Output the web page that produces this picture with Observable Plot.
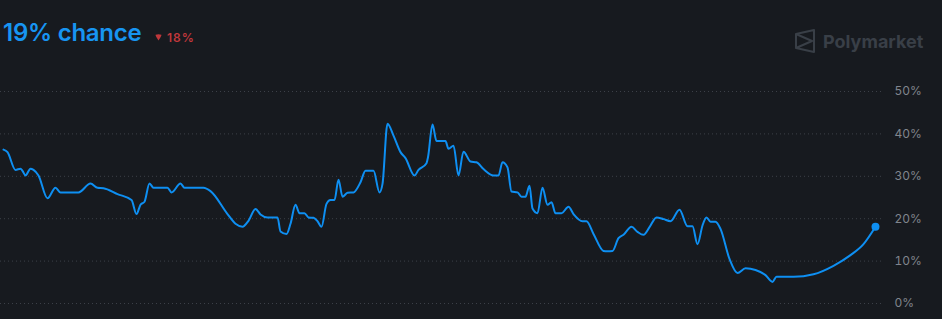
<!DOCTYPE html>
<html>
<head>
<meta charset="utf-8">
<script src="https://cdn.jsdelivr.net/npm/d3@7"></script>
<script src="https://cdn.jsdelivr.net/npm/@observablehq/plot@0.6"></script>
<style>
  html, body { margin: 0; padding: 0; background: #171a1f; }
  #wrap { position: relative; width: 942px; height: 319px; background: #171a1f; overflow: hidden; font-family: Inter, "Open Sans", sans-serif; }
  #head { position: relative; height: 70px; }
  #title { position: absolute; left: 3px; top: 18px; font-size: 24px; font-weight: 600; color: #1795f2; letter-spacing: -0.25px; }
  #delta { position: absolute; left: 155px; top: 30px; display: flex; align-items: center; gap: 5px; font-size: 12px; font-weight: 600; color: #c0373b; letter-spacing: 1px; }
  #brand { position: absolute; left: 795px; top: 29px; display: flex; align-items: center; gap: 8px; color: #393f47; font-size: 18px; font-weight: 700; }
  #chart svg { display: block; }
</style>
</head>
<body>
<div id="wrap">
  <div id="head">
    <div id="title"></div>
    <div id="delta">
      <svg width="7" height="7" viewBox="0 0 7 7"><path d="M0.6 0.8 Q3.5 -0.2 6.4 0.8 Q6.6 1.6 3.5 6.6 Q0.4 1.6 0.6 0.8 Z" fill="#c0373b"/></svg>
      <span id="deltaText"></span>
    </div>
    <div id="brand">
      <svg width="20" height="24" viewBox="0 0 20 24" fill="none" stroke="#393f47" stroke-width="2" stroke-linejoin="round">
        <path d="M1 5 L19 1 L19 23 L1 19 Z M1 5 L17 12 L1 19"/>
      </svg>
      <span id="brandText"></span>
    </div>
  </div>
  <div id="chart"></div>
</div>
<script>
const titleText = "19% chance";
const deltaText = "18%";
const brandName = "Polymarket";

// time position (arbitrary units) and probability (%)
const day = [3,7,15,20,22,25,30,33,38,47,55,60,78,90,97,103,117,131,136,140,144,149,153,167,171,180,184,203,210,227,235,242,248,255,260,267,277,280,286,290,295,299,304,308,313,317,321,326,330,334,338,342,347,353,360,365,373,379,382,387,393,400,405,414,418,426,427.5,432,436,445,448,453,458,463,470,476,483,493,498,502,507,511,517,521,525,529,532,537,542,547,551,555,561,568,573,582,586,593,603,607,612,618,623,631,637,643,649,656,663,670,679,687,692,697,702,706,710,715,720,729,737,745,755,765,772,776,793,813,833,850,863,875];
const pct = [36.3,35.7,31.5,31.8,31.3,30.2,31.8,31.5,30.2,24.8,27.3,26.2,26.2,28.3,27.3,27.2,25.8,24.4,21.1,23.3,24.0,28.3,27.3,27.3,26.2,28.3,27.3,27.3,26.5,21.1,18.8,18.1,19.5,22.3,21.0,20.3,20.3,17.0,16.4,18.8,23.3,21.3,21.3,20.3,20.2,19.4,18.1,23.5,24.4,24.4,29.2,25.2,26.1,26.2,28.6,31.3,31.3,26.2,28.2,42.4,39.6,35.7,34.3,30.2,31.5,33.1,34.5,42.2,38.3,38.3,36.5,37.2,30.2,35.8,33.5,33.3,31.7,30.2,30.2,33.3,32.1,26.4,26.2,25.2,25.2,27.8,22.4,21.3,27.3,23.3,23.9,21.3,21.3,22.8,21.1,19.4,19.4,16.4,12.4,12.3,12.4,15.4,16.2,18.1,16.9,16.2,18.0,20.3,19.9,19.4,22.1,18.2,18.2,14.0,18.4,20.3,19.3,19.3,17.6,10.5,7.2,8.3,7.9,6.7,5.1,6.3,6.3,6.9,8.9,11.4,14.0,18.1];
const yTicks = [0, 10, 20, 30, 40, 50];
const xDomain = [0, 883];

document.getElementById("title").textContent = titleText;
document.getElementById("deltaText").textContent = deltaText;
document.getElementById("brandText").textContent = brandName;

const data = day.map((d, i) => ({t: d, v: pct[i]}));
const last = data[data.length - 1];

const chart = Plot.plot({
  width: 942,
  height: 249,
  marginTop: 21,
  marginBottom: 16,
  marginLeft: 0,
  marginRight: 59,
  style: {background: "#171a1f", fontFamily: "Inter, 'Open Sans', sans-serif", fontSize: "12px"},
  x: {domain: xDomain, axis: null},
  y: {domain: [0, 50], ticks: yTicks, tickFormat: d => d + "%"},
  marks: [
    Plot.ruleY(yTicks, {stroke: "#3c4048", strokeDasharray: "1,3", strokeWidth: 1}),
    Plot.axisY({anchor: "right", ticks: yTicks, tickFormat: d => d + "%", tickSize: 0, tickPadding: 11, textAnchor: "start", fill: "#80858d", label: null}),
    Plot.line(data, {x: "t", y: "v", stroke: "#0e8ff2", strokeWidth: 2, curve: "monotone-x"}),
    Plot.dot([last], {x: "t", y: "v", r: 4, fill: "#0e8ff2", stroke: "none"})
  ]
});
document.getElementById("chart").appendChild(chart);
</script>
</body>
</html>
